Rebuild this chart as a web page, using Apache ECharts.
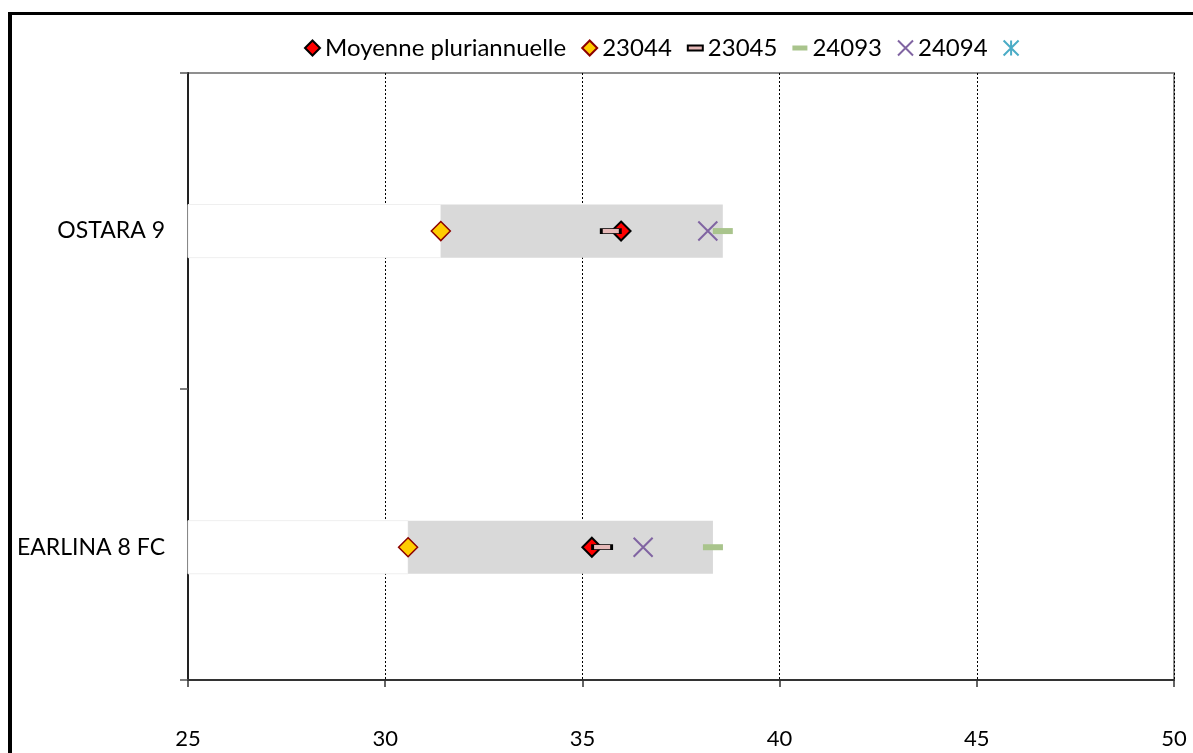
<!DOCTYPE html>
<html>
<head>
<meta charset="utf-8">
<script src="https://cdn.jsdelivr.net/npm/echarts@6/dist/echarts.min.js"></script>
<style>
  html, body { margin: 0; padding: 0; background: #fff; overflow: hidden; }
  #chart { position: absolute; left: 0; top: 0; width: 1193px; height: 753px; }
  #frame { position: absolute; left: 8px; top: 12px; width: 1400px; height: 1000px;
           border-left: 4px solid #000; border-top: 3px solid #000; pointer-events: none; }
</style>
</head>
<body>
<div id="chart"></div>
<div id="frame"></div>
<script>
// ---- data ----
const categories = ['OSTARA 9', 'EARLINA 8 FC'];
const moyenne = [35.98, 35.24];
const s23044 = [31.41, 30.58];
const s23045 = [35.72, 35.50];
const s24093 = [38.56, 38.31];
const s24094 = [38.18, 36.54];
const s5 = [];
const xTicks = [25, 30, 35, 40, 45, 50];

// ---- build ----
const yearSeries = [s23044, s23045, s24093, s24094];
const pos = categories.map((c, i) => i + 0.5);
const ranges = categories.map((c, i) => {
  const vals = yearSeries.map(s => s[i]);
  return [xTicks[0], Math.min(...vals), Math.max(...vals), pos[i]];
});
const pts = arr => arr.map((v, i) => [v, pos[i]]);

const FONT = 'Lato';
const BAR = 0.168;

const chart = echarts.init(document.getElementById('chart'), null, { renderer: 'canvas' });

const option = {
  animation: false,
  backgroundColor: '#fff',
  textStyle: { fontFamily: FONT },
  grid: { left: 188, right: 19, top: 73, bottom: 73, show: true, borderColor: '#8F8F8F', borderWidth: 2, backgroundColor: 'transparent' },
  legend: {
    top: 31, left: 299,
    itemWidth: 15, itemHeight: 15, itemGap: 15,
    textStyle: { fontFamily: FONT, fontSize: 24, color: '#000' },
    data: [
      { name: 'Moyenne pluriannuelle' },
      { name: '23044' },
      { name: '23045', icon: 'path://M0,0H15V5H0Z' },
      { name: '24093', icon: 'path://M0,0H15V5H0Z' },
      { name: '24094' },
      { name: ' ' }
    ]
  },
  xAxis: {
    type: 'value', min: xTicks[0], max: xTicks[xTicks.length - 1], interval: 5,
    axisLine: { show: true, onZero: false, lineStyle: { color: '#333', width: 2 } },
    axisTick: { show: true, length: 7, lineStyle: { color: '#333', width: 1.5 } },
    axisLabel: { fontFamily: FONT, fontSize: 22, color: '#000', margin: 48 },
    splitLine: { show: true, lineStyle: { color: '#000', type: [2, 2], width: 1 } }
  },
  yAxis: {
    type: 'value', inverse: true, min: 0, max: 1.92, interval: 1,
    axisLine: { show: true, onZero: false, lineStyle: { color: '#222', width: 2 } },
    axisTick: { show: true, length: 8, customValues: [0, 1, 1.92], lineStyle: { color: '#555', width: 1.5 } },
    axisLabel: {
      customValues: pos, fontFamily: FONT, fontSize: 23, color: '#000', margin: 23,
      formatter: v => categories[Math.round(v - 0.5)] || ''
    },
    splitLine: { show: false }
  },
  series: [
    {
      type: 'custom', name: 'range', silent: true, z: 1,
      data: ranges,
      renderItem: (params, api) => {
        const start = api.coord([api.value(0), api.value(3)]);
        const lo = api.coord([api.value(1), api.value(3)]);
        const hi = api.coord([api.value(2), api.value(3)]);
        const h = Math.abs(api.size([0, BAR])[1]);
        return {
          type: 'group', children: [
            { type: 'rect', shape: { x: start[0], y: start[1] - h / 2, width: lo[0] - start[0], height: h },
              style: { fill: '#fff', stroke: '#EFEFEF', lineWidth: 1 } },
            { type: 'rect', shape: { x: lo[0], y: lo[1] - h / 2, width: hi[0] - lo[0], height: h },
              style: { fill: '#D9D9D9' } }
          ]
        };
      }
    },
    {
      type: 'scatter', name: 'Moyenne pluriannuelle', z: 3, data: pts(moyenne),
      symbol: 'diamond', symbolSize: 19,
      itemStyle: { color: '#FF0000', borderColor: '#000', borderWidth: 2, opacity: 1 }
    },
    {
      type: 'scatter', name: '23044', z: 3, data: pts(s23044),
      symbol: 'diamond', symbolSize: 19,
      itemStyle: { color: '#FFCC00', borderColor: '#8B0000', borderWidth: 1.5, opacity: 1 }
    },
    {
      type: 'scatter', name: '23045', z: 4, data: pts(s23045),
      symbol: 'rect', symbolSize: [19, 5],
      itemStyle: { color: '#E6B9B8', borderColor: '#000', borderWidth: 1.5, opacity: 1 }
    },
    {
      type: 'scatter', name: '24093', z: 3, data: pts(s24093),
      symbol: 'rect', symbolSize: [20, 6],
      itemStyle: { color: '#A9C48C', opacity: 1 }
    },
    {
      type: 'scatter', name: '24094', z: 4, data: pts(s24094),
      symbol: 'path://M0,0L10,10M10,0L0,10', symbolKeepAspect: true, symbolSize: 19,
      itemStyle: { color: 'rgba(0,0,0,0)', borderColor: '#8064A2', borderWidth: 2, opacity: 1 }
    },
    {
      type: 'scatter', name: ' ', z: 4, data: s5,
      symbol: 'path://M0,0L10,10M10,0L0,10M5,0L5,10', symbolKeepAspect: true, symbolSize: 16,
      itemStyle: { color: 'rgba(0,0,0,0)', borderColor: '#4BACC6', borderWidth: 2, opacity: 1 }
    }
  ]
};
chart.setOption(option);
</script>
</body>
</html>
